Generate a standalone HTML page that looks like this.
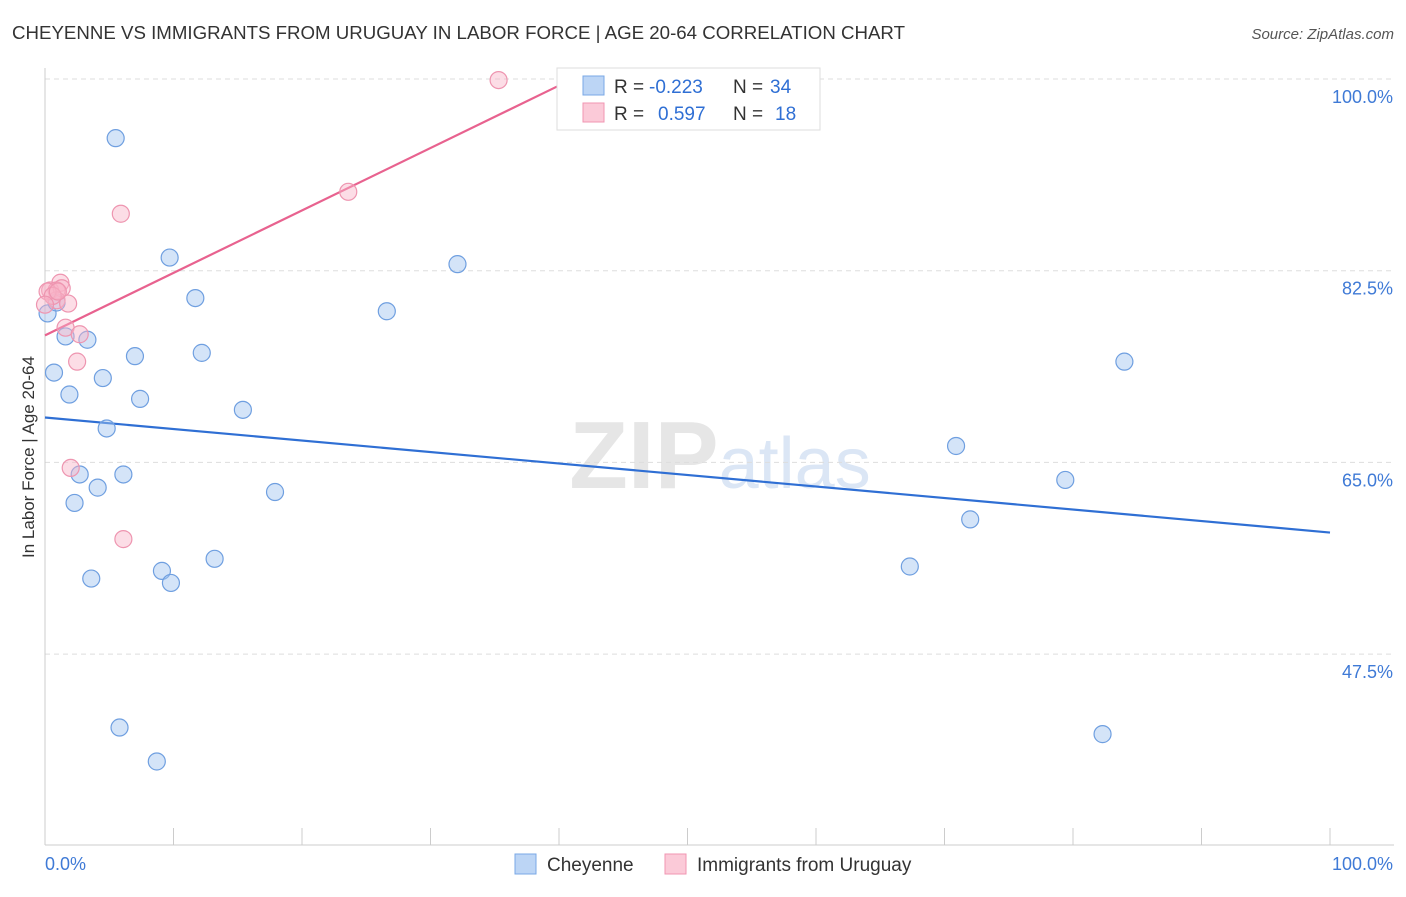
<!DOCTYPE html>
<html><head><meta charset="utf-8"><style>
body{margin:0;background:#fff;font-family:"Liberation Sans",sans-serif}
svg text{font-family:"Liberation Sans",sans-serif}
</style></head><body>
<svg id="chart" width="1406" height="892" viewBox="0 0 1406 892">
<text x="12" y="39" font-size="18" fill="#333" textLength="893" lengthAdjust="spacingAndGlyphs">CHEYENNE VS IMMIGRANTS FROM URUGUAY IN LABOR FORCE | AGE 20-64 CORRELATION CHART</text>
<text x="1394" y="39" font-size="15" fill="#555" text-anchor="end" font-style="italic">Source: ZipAtlas.com</text>
<text x="720" y="488" font-size="96" text-anchor="middle" fill="#e6e6e6" font-family="Liberation Serif" font-weight="bold">ZIP<tspan fill="#dbe6f5" font-family="Liberation Sans" font-weight="normal" font-size="72">atlas</tspan></text>
<text transform="translate(34,457) rotate(-90)" font-size="17" fill="#333" text-anchor="middle">In Labor Force | Age 20-64</text>
<g id="grid"></g><g id="ticks"></g><g id="lines"></g><g id="dots"></g>
<g>
<rect x="557" y="68" width="263" height="62" fill="#fff" stroke="#ddd"/>
<rect x="583" y="76" width="21" height="19" fill="#bcd5f5" stroke="#7aa8e6"/>
<rect x="583" y="103" width="21" height="19" fill="#fbcad8" stroke="#f095b2"/>
<text x="614" y="93" font-size="19" fill="#333">R =</text>
<text x="649" y="93" font-size="19" fill="#2f6fd4">-0.223</text>
<text x="733" y="93" font-size="19" fill="#333">N =</text>
<text x="770" y="93" font-size="19" fill="#2f6fd4">34</text>
<text x="614" y="120" font-size="19" fill="#333">R =</text>
<text x="658" y="120" font-size="19" fill="#2f6fd4">0.597</text>
<text x="733" y="120" font-size="19" fill="#333">N =</text>
<text x="775" y="120" font-size="19" fill="#2f6fd4">18</text>
</g>
<g>
<rect x="515" y="854" width="21" height="20" fill="#bcd5f5" stroke="#7aa8e6"/>
<text x="547" y="871" font-size="19" fill="#333">Cheyenne</text>
<rect x="665" y="854" width="21" height="20" fill="#fbcad8" stroke="#f095b2"/>
<text x="697" y="871" font-size="19" fill="#333">Immigrants from Uruguay</text>
</g>
<text x="45" y="870" font-size="18" fill="#3f7ad6">0.0%</text>
<text x="1393" y="870" font-size="18" fill="#3f7ad6" text-anchor="end">100.0%</text>
</svg>
<script>
const blueX=[5.5,9.7,32.1,11.7,26.6,0.2,1.6,3.3,7.0,12.2,84.0,0.7,4.5,1.9,7.4,15.4,4.8,70.9,2.7,6.1,4.1,17.9,79.4,2.3,72.0,13.2,9.1,67.3,3.6,9.8,5.8,82.3,8.7,0.9];
const blueY=[94.6,83.7,83.1,80.0,78.8,78.6,76.5,76.2,74.7,75.0,74.2,73.2,72.7,71.2,70.8,69.8,68.1,66.5,63.9,63.9,62.7,62.3,63.4,61.3,59.8,56.2,55.1,55.5,54.4,54.0,40.8,40.2,37.7,79.6];
const pinkX=[35.3,23.6,5.9,1.2,0.4,0.9,1.3,0.9,1.8,1.6,2.7,2.5,2.0,6.1,0.2,0.6,0.0,1.0];
const pinkY=[99.9,89.7,87.7,81.4,80.7,80.7,80.9,79.8,79.5,77.3,76.7,74.2,64.5,58.0,80.6,80.2,79.4,80.6];
const yTicks=[100,82.5,65,47.5];
const yTickLabels=["100.0%","82.5%","65.0%","47.5%"];
const blueTrend=[69.1,58.6];   // y at x=0, x=100
const pinkTrend=[76.6,99.4,40]; // y at x=0, y at xEnd, xEnd
const NS="http://www.w3.org/2000/svg";
const X=v=>45+v*12.85, Y=v=>79+(100-v)*10.955;
function mk(t,a,p){const e=document.createElementNS(NS,t);for(const k in a)e.setAttribute(k,a[k]);p.appendChild(e);return e;}
const grid=document.getElementById('grid'),ticks=document.getElementById('ticks'),lines=document.getElementById('lines'),dots=document.getElementById('dots');
yTicks.forEach((t,i)=>{
 const l=mk('line',{x1:45,x2:1394,y1:Y(t),y2:Y(t),stroke:'#ddd','stroke-dasharray':'5,4'},grid);
 
 
 const tx=mk('text',{x:1393,y:Y(t)+24,'font-size':18,fill:'#3f7ad6','text-anchor':'end'},grid);
 tx.textContent=yTickLabels[i];
 
 
});
const ax=mk('line',{x1:45,x2:45,y1:68,y2:845,stroke:'#ccc'},ticks);


const bx=mk('line',{x1:45,x2:1394,y1:845,y2:845,stroke:'#ccc'},ticks);


for(let i=0;i<=10;i++){const t=mk('line',{x1:X(i*10),x2:X(i*10),y1:828,y2:845,stroke:'#ccc'},ticks);
 
 }
function dot(x,y,fill,stroke,name){const c=mk('circle',{cx:X(x),cy:Y(y),r:8.5,fill:fill,stroke:stroke,'stroke-width':1.2},dots);
 
 }
blueX.forEach((x,i)=>dot(x,blueY[i],'rgba(160,196,240,0.45)','#6f9fe0','cheyenne-point'));
pinkX.forEach((x,i)=>dot(x,pinkY[i],'rgba(248,180,200,0.45)','#ee95b0','uruguay-point'));
const bl=mk('line',{x1:X(0),y1:Y(blueTrend[0]),x2:X(100),y2:Y(blueTrend[1]),stroke:'#2f6fd4','stroke-width':2.2},lines);


const pl=mk('line',{x1:X(0),y1:Y(pinkTrend[0]),x2:X(pinkTrend[2]),y2:Y(pinkTrend[1]),stroke:'#e8628f','stroke-width':2.2},lines);


</script>
</body></html>
